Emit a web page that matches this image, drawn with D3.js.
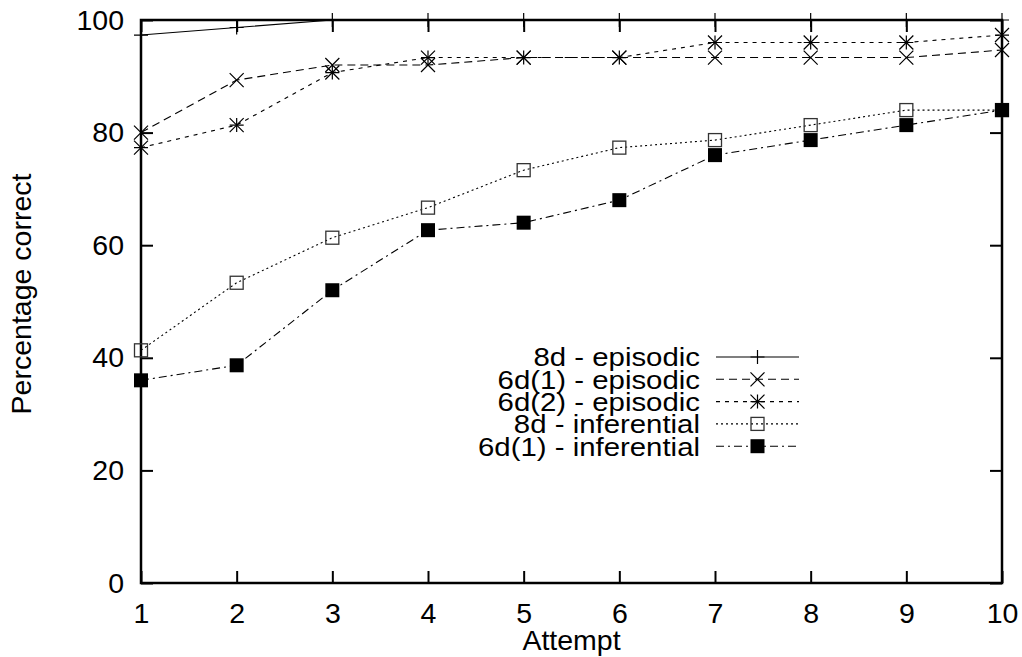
<!DOCTYPE html>
<html>
<head>
<meta charset="utf-8">
<script src="https://cdn.jsdelivr.net/npm/d3@7"></script>
<style>
  html, body { margin: 0; padding: 0; background: #fff; }
  svg { display: block; font-family: "Liberation Sans", Arial, Helvetica, sans-serif; }
</style>
</head>
<body>
<svg id="chart" width="1022" height="657"></svg>
<script>
// ---- data ----
const attempts = [1, 2, 3, 4, 5, 6, 7, 8, 9, 10];
const seriesNames = ["8d - episodic", "6d(1) - episodic", "6d(2) - episodic", "8d - inferential", "6d(1) - inferential"];
const ep8d   = [97.33, 98.67, 100, 100, 100, 100, 100, 100, 100, 100];
const ep6d1  = [80.0, 89.33, 92.0, 92.0, 93.33, 93.33, 93.33, 93.33, 93.33, 94.67];
const ep6d2  = [77.33, 81.33, 90.67, 93.33, 93.33, 93.33, 96.0, 96.0, 96.0, 97.33];
const inf8d  = [41.33, 53.33, 61.33, 66.67, 73.33, 77.33, 78.67, 81.33, 84.0, 84.0];
const inf6d1 = [36.0, 38.67, 52.0, 62.67, 64.0, 68.0, 76.0, 78.67, 81.33, 84.0];
const yTicks = [0, 20, 40, 60, 80, 100];
const xTicks = [1, 2, 3, 4, 5, 6, 7, 8, 9, 10];
const xLabel = "Attempt";
const yLabel = "Percentage correct";

// ---- styles ----
const styles = [
  { values: ep8d,   dash: null,        marker: "plus" },
  { values: ep6d1,  dash: "8,5",       marker: "cross" },
  { values: ep6d2,  dash: "4,5",       marker: "star" },
  { values: inf8d,  dash: "2,3",       marker: "box" },
  { values: inf6d1, dash: "8,4,2,4",   marker: "fbox" }
];

const svg = d3.select("#chart");
const L = 141, R = 1002, T = 20, B = 583;
const x = d3.scaleLinear().domain([1, 10]).range([L, R]);
const y = d3.scaleLinear().domain([0, 100]).range([B, T]);
const FS = 28.5;
const LFS = 26;   // legend font size (glyphs drawn slightly wider)
const LSX = 1.13; // horizontal stretch of legend text

// axes (inward ticks)
const gx = svg.append("g").attr("transform", `translate(0,${B})`)
  .call(d3.axisBottom(x).tickValues(xTicks).tickFormat(d3.format("d")).tickSize(-12).tickPadding(20));
const gy = svg.append("g").attr("transform", `translate(${L},0)`)
  .call(d3.axisLeft(y).tickValues(yTicks).tickFormat(d3.format("d")).tickSize(-12).tickPadding(17));
const gxt = svg.append("g").attr("transform", `translate(0,${T})`)
  .call(d3.axisTop(x).tickValues(xTicks).tickFormat("").tickSize(-12));
const gyr = svg.append("g").attr("transform", `translate(${R},0)`)
  .call(d3.axisRight(y).tickValues(yTicks).tickFormat("").tickSize(-12));
[gx, gy, gxt, gyr].forEach(g => {
  g.select(".domain").remove();
  g.selectAll(".tick line").attr("stroke", "#000").attr("stroke-width", 2);
  g.selectAll(".tick text").attr("fill", "#000").style("font-size", FS + "px")
    .style("font-family", "'Liberation Sans', Arial, sans-serif");
});

// border
svg.append("rect").attr("x", L).attr("y", T).attr("width", R - L).attr("height", B - T)
  .attr("fill", "none").attr("stroke", "#000").attr("stroke-width", 2.5);

// axis titles
svg.append("text").attr("x", (L + R) / 2).attr("y", 650).attr("text-anchor", "middle")
  .style("font-size", FS + "px").text(xLabel);
svg.append("text").attr("transform", "translate(31,294) rotate(-90)").attr("text-anchor", "middle")
  .style("font-size", FS + "px").text(yLabel);

// marker drawing
const P = 7;
function drawMarker(g, type, cx, cy) {
  if (type === "plus" || type === "star") {
    g.append("path").attr("d", `M${cx - P},${cy}H${cx + P}M${cx},${cy - P}V${cy + P}`)
      .attr("stroke", "#000").attr("stroke-width", 1.2).attr("fill", "none");
  }
  if (type === "cross" || type === "star") {
    g.append("path").attr("d", `M${cx - P},${cy - P}L${cx + P},${cy + P}M${cx - P},${cy + P}L${cx + P},${cy - P}`)
      .attr("stroke", "#000").attr("stroke-width", 1.2).attr("fill", "none");
  }
  if (type === "box") {
    g.append("rect").attr("x", cx - P + 0.5).attr("y", cy - P + 0.5).attr("width", 2 * P - 1).attr("height", 2 * P - 1)
      .attr("fill", "none").attr("stroke", "#333").attr("stroke-width", 1.3);
  }
  if (type === "fbox") {
    g.append("rect").attr("x", cx - P).attr("y", cy - P).attr("width", 2 * P).attr("height", 2 * P)
      .attr("fill", "#000");
  }
}

const line = d3.line().x((d, i) => x(attempts[i])).y(d => y(d));
styles.forEach(s => {
  const g = svg.append("g");
  g.append("path").datum(s.values).attr("d", line)
    .attr("fill", "none").attr("stroke", "#000").attr("stroke-width", 1.1)
    .attr("stroke-dasharray", s.dash);
  s.values.forEach((v, i) => drawMarker(g, s.marker, x(attempts[i]), y(v)));
});

// legend
const lx0 = 716, lx1 = 799, textX = 700, ly0 = 357, lstep = 22.3;
styles.forEach((s, i) => {
  const cy = ly0 + i * lstep;
  const g = svg.append("g");
  g.append("text").attr("transform", `translate(${textX},${cy}) scale(${LSX},1)`)
    .attr("dy", "0.36em").attr("text-anchor", "end")
    .style("font-size", LFS + "px").text(seriesNames[i]);
  g.append("line").attr("x1", lx0).attr("x2", lx1).attr("y1", cy).attr("y2", cy)
    .attr("stroke", "#000").attr("stroke-width", 1.1).attr("stroke-dasharray", s.dash);
  drawMarker(g, s.marker, (lx0 + lx1) / 2, cy);
});
</script>
</body>
</html>
